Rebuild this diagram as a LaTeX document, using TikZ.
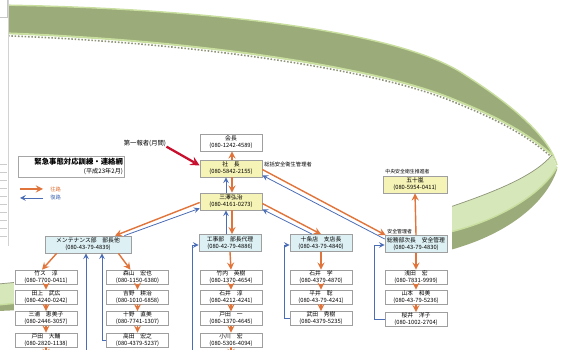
\documentclass[tikz,border=0pt]{standalone}
\usepackage{fontspec}
\setmainfont{Noto Sans CJK JP}
\usepackage{tikz}
\usetikzlibrary{calc, positioning}

\definecolor{ringDark}{HTML}{9CAB7A}
\definecolor{ringLight}{HTML}{D6E7BA}
\definecolor{ringHi}{HTML}{C9DF9F}
\definecolor{ringShade}{HTML}{8E9478}
\definecolor{goOrange}{HTML}{E0743A}
\definecolor{backBlue}{HTML}{4A6DB5}
\definecolor{alarmRed}{HTML}{C8102E}
\definecolor{headCyan}{HTML}{DDF0F4}
\definecolor{chiefYellow}{HTML}{F5F3B5}

\tikzset{
  person/.style={draw=gray!75, fill=white, line width=0.4pt, minimum width=1.24cm,
    minimum height=0.27cm, inner sep=0.3pt, align=center,
    font=\fontsize{3.3}{3.9}\selectfont},
  leader/.style={person, fill=headCyan, minimum height=0.34cm},
  chief/.style={person, fill=chiefYellow, minimum height=0.34cm},
  note/.style={inner sep=0pt, font=\fontsize{3}{3.6}\selectfont},
  go/.style={->, draw=goOrange, line width=0.8pt},
  back/.style={->, draw=backBlue, line width=0.45pt},
}

\begin{document}
\begin{tikzpicture}[>=stealth, x=0.02cm, y=-0.02cm]
    \useasboundingbox (0,0) rectangle (563,350);

    % =================================================================
    % 1. GREEN RING BEHIND THE CHART
    % =================================================================
    % upper (outer) face of the ring
    \fill[ringDark] (-2,5) .. controls (200,8) and (400,30) .. (465,75)
        .. controls (520,110) and (550,140) .. (557,165) -- (552,155)
        .. controls (530,135) and (500,118) .. (455,100)
        .. controls (380,68) and (200,40) .. (-2,33) -- cycle;
    \draw[ringHi, line width=0.8pt] (-2,5) .. controls (200,8) and (400,30) .. (465,75)
        .. controls (520,110) and (550,140) .. (557,165);
    \draw[ringShade, line width=0.9pt, densely dotted, yshift=-0.05cm] (552,155)
        .. controls (530,135) and (500,118) .. (455,100)
        .. controls (380,68) and (200,40) .. (-2,33);
    \draw[ringHi, line width=1.1pt] (552,155)
        .. controls (530,135) and (500,118) .. (455,100)
        .. controls (380,68) and (200,40) .. (-2,33);

    % lower (inner) face of the ring
    \fill[ringLight] (552,155) .. controls (535,175) and (500,190) .. (450,207)
        .. controls (300,250) and (150,270) .. (-2,284) -- (-2,305)
        .. controls (150,290) and (320,258) .. (450,232)
        .. controls (500,220) and (543,193) .. (557,167) -- cycle;
    \fill[ringDark] (557,167) .. controls (543,193) and (500,220) .. (450,232)
        .. controls (320,258) and (150,290) .. (-2,305) -- (-2,311)
        .. controls (150,305) and (320,283) .. (450,250)
        .. controls (505,235) and (545,205) .. (557,170) -- cycle;
    \draw[ringShade, line width=0.4pt] (552,155) .. controls (535,175) and (500,190) .. (450,207)
        .. controls (300,250) and (150,270) .. (-2,284);
    \draw[ringHi, line width=0.8pt] (557,167) .. controls (543,193) and (500,220) .. (450,232)
        .. controls (320,258) and (150,290) .. (-2,305);

    % sheet at the left edge
    \fill[white] (0,0) rectangle (8,246);
    \draw[gray!35, line width=0.3pt] (8,0) -- (8,246);
    \draw[gray!45, line width=0.3pt] (0,17) -- (7,17) -- (7,0);
    \foreach \yy in {164,172,...,236}
        \draw[gray!40, line width=0.3pt] (0,\yy) -- (7,\yy);

    % white sheet of the chart
    \fill[white] (14,103) rectangle (452,352);

    % =================================================================
    % 2. TITLE AND LEGEND
    % =================================================================
    \node[draw=gray!70, line width=0.4pt, text width=2.06cm, minimum height=0.42cm,
        inner sep=1pt, align=right, font=\fontsize{4.2}{5}\selectfont]
        (Title) at (71.5,166.5) {\textbf{緊急事態対応訓練・連絡網}\\
        {\fontsize{3.5}{4}\selectfont (平成23年2月)}};

    \coordinate (GoFrom) at (20,189);
    \coordinate (GoTo) at (43,189);
    \coordinate (BackFrom) at (43,198);
    \coordinate (BackTo) at (20,198);
    \draw[go] (GoFrom) -- (GoTo);
    \draw[back] (BackFrom) -- (BackTo);
    \node[note, right=4pt of GoTo, text=goOrange] (GoLabel) {往路};
    \node[note, right=4pt of BackFrom, text=backBlue] (BackLabel) {復路};

    % =================================================================
    % 3. TOP OF THE NETWORK
    % =================================================================
    \node[person, minimum height=0.34cm] (TopBox) at (231,142.5) {会長\\(080-1242-4589)};
    \node[chief] (ViceBox) at (231,168.5) {社\quad 長\\(080-5842-2155)};
    \node[chief] (MgrBox) at (231,201.5) {三澤弘治\\(080-4161-0273)};
    \node[chief, minimum width=1.28cm] (PromBox) at (415,184.5) {五十嵐\\(080-5954-0411)};

    \node[note, font=\fontsize{3.6}{4}\selectfont] (FirstRep) at (145,143) {第一報者(月間)};
    \node[note, anchor=west] (ViceRole) at (264,164) {総括安全衛生管理者};
    \node[note, anchor=west, font=\fontsize{2.8}{3.4}\selectfont] (PromRole) at (385,172) {中央安全衛生推進者};

    \draw[->, alarmRed, line width=1.3pt] (FirstRep.south east) -- ($(ViceBox.west)+(0,-3)$);
    \draw[go] ($(ViceBox.north)+(1,0)$) -- ($(TopBox.south)+(1,0)$);
    \draw[go] ($(ViceBox.south)+(1,0)$) -- ($(MgrBox.north)+(1,0)$);
    \draw[back] ($(MgrBox.north)+(-5,0)$) -- ($(ViceBox.south)+(-5,0)$);

    % =================================================================
    % 4. GROUP LEADERS
    % =================================================================
    \node[leader, minimum width=1.72cm] (HeadL) at (88,244.5) {メンテナンス部\quad 部長他\\(080-43-79-4839)};
    \node[leader] (HeadM) at (230,243) {工事部\quad 部長代理\\(080-42-79-4886)};
    \node[leader] (HeadMR) at (321,243) {十条店\quad 支店長\\(080-43-79-4840)};
    \node[leader] (HeadR) at (416,244) {総務部次長\quad 安全管理\\(080-43-79-4830)};
    \node[note, anchor=south west, font=\fontsize{2.8}{3.4}\selectfont] (HeadRRole) at (387,234) {安全管理者};

    \draw[go] ($(MgrBox.west)+(0,1)$) -- ($(HeadL.north)+(27,0)$);
    \draw[back] ($(HeadL.north east)+(-7,0)$) -- ($(MgrBox.south west)+(0,-2)$);
    \draw[go] ($(MgrBox.south)+(1,0)$) -- ($(HeadM.north)+(2,0)$);
    \draw[back] ($(HeadM.north)+(-4,0)$) -- ($(MgrBox.south)+(-5,0)$);
    \draw[go] ($(MgrBox.east)+(0,2)$) -- (HeadMR.north);
    \draw[back] ($(HeadMR.north)+(-9,0)$) -- ($(MgrBox.south east)+(0,-1)$);
    \draw[go] ($(ViceBox.east)+(0,1)$) -- ($(HeadR.north west)+(1,0)$);
    \draw[back] ($(HeadR.west)+(0,-5)$) -- ($(ViceBox.south east)+(0,-2)$);
    \draw[go] (HeadR.north) -- (PromBox.south);

    % =================================================================
    % 5. MEMBERS
    % =================================================================
    \node[person] (A1) at (46,277) {竹ス\quad 淳\\(080-7700-0411)};
    \node[person] (A2) at (46,297) {田上\quad 武広\\(080-4240-0242)};
    \node[person] (A3) at (46,318.5) {三浦\quad 恵美子\\(080-2446-3057)};
    \node[person] (A4) at (46,340) {戸田\quad 大輔\\(080-2820-1138)};

    \node[person] (B1) at (137.5,277) {森山\quad 宏也\\(080-1150-6380)};
    \node[person] (B2) at (137.5,297) {吉野\quad 耕治\\(080-1010-6858)};
    \node[person] (B3) at (137.5,318.5) {十野\quad 直美\\(080-7741-1307)};
    \node[person] (B4) at (137.5,340) {高田\quad 宏之\\(080-4379-5237)};

    \node[person] (C1) at (231,277) {竹内\quad 英樹\\(080-1370-4654)};
    \node[person] (C2) at (231,297) {石井\quad 淳\\(080-4212-4241)};
    \node[person] (C3) at (231,318.5) {戸田\quad 一\\(080-1370-4645)};
    \node[person] (C4) at (231,340) {小川\quad 宏\\(080-5306-4094)};

    \node[person] (D1) at (321,277) {石井\quad 学\\(080-4379-4870)};
    \node[person] (D2) at (321,297) {平井\quad 聡\\(080-43-79-4241)};
    \node[person] (D3) at (321,318.5) {武田\quad 秀樹\\(080-4379-5235)};

    \node[person] (E1) at (416,277) {浅田\quad 宏\\(080-7831-9999)};
    \node[person] (E2) at (416,297) {山本\quad 和美\\(080-43-79-5236)};
    \node[person] (E3) at (416,319.5) {桜井\quad 洋子\\(080-1002-2704)};

    % orange chain down each group
    \draw[go] ($(HeadL.south west)+(12,0)$) -- ($(A1.north)+(-4,0)$);
    \draw[go] ($(HeadL.south east)+(-13,0)$) -- ($(B1.north)+(-7,0)$);
    \foreach \upper/\lower in {A1/A2, A2/A3, A3/A4, B1/B2, B2/B3, B3/B4,
        HeadM/C1, C1/C2, C2/C3, C3/C4, HeadMR/D1, D1/D2, D2/D3,
        HeadR/E1, E1/E2, E2/E3}
        \draw[go] (\upper.south) -- (\lower.north);
    \coordinate (AEnd) at (46,356);
    \coordinate (CEnd) at (231,356);
    \draw[go] (A4.south) -- (AEnd);
    \draw[go] (C4.south) -- (CEnd);

    % blue way back to each leader
    \coordinate (LBack) at (86,356);
    \coordinate (MBack) at (192,356);
    \draw[back] (LBack) -- (LBack |- HeadL.south);
    \draw[back] (B4.west) -| ($(HeadL.south)+(14,0)$);
    \draw[back] (MBack) |- ($(HeadM.west)+(0,2)$);
    \draw[back] (D3.west) -- ++(-5,0) |- ($(HeadMR.west)+(0,2)$);
    \draw[back] (E3.west) -- ++(-10,0) |- ($(HeadR.west)+(0,1)$);

\end{tikzpicture}
\end{document}
